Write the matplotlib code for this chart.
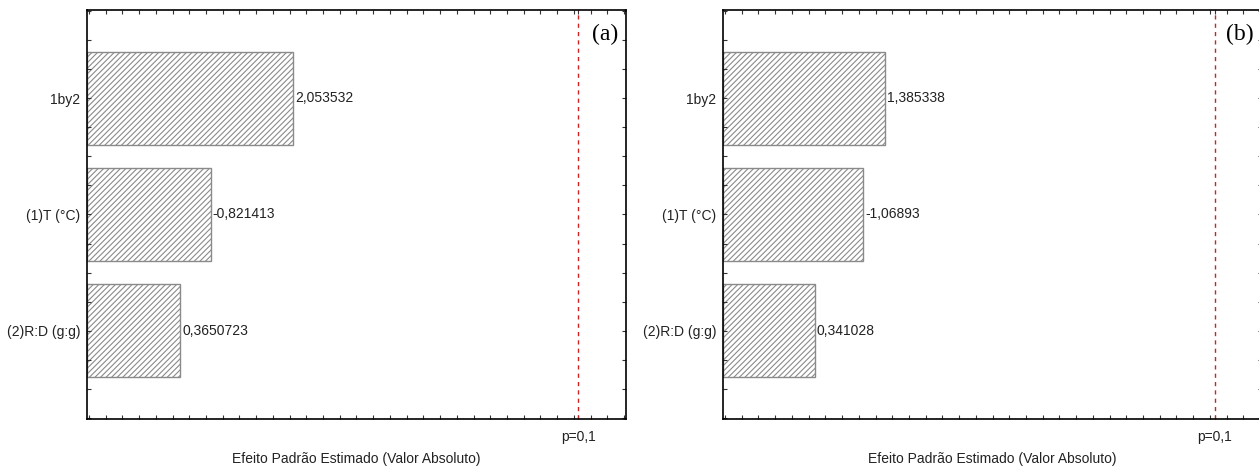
import matplotlib
matplotlib.use('Agg')
import matplotlib.pyplot as plt
from matplotlib.ticker import MultipleLocator

# data
effects = ['1by2', '(1)T (°C)', '(2)R:D (g:g)']
values_a = [2.053532, 0.821413, 0.3650723]
labels_a = ['2,053532', '-0,821413', '0,3650723']
values_b = [1.385338, 1.06893, 0.341028]
labels_b = ['1,385338', '-1,06893', '0,341028']
p_limit = 6.32
p_label = 'p=0,1'
xlabel = 'Efeito Padrão Estimado (Valor Absoluto)'
panels = ['(a)', '(b)']

x_min, x_max = -1.03, 7.03

plt.rcParams['font.family'] = ['Liberation Sans', 'DejaVu Sans']
plt.rcParams['hatch.color'] = '#8a8a8a'
plt.rcParams['hatch.linewidth'] = 0.8

fig = plt.figure(figsize=(12.59, 4.67), dpi=100)
ax_a = fig.add_axes([0.0691, 0.1028, 0.4281, 0.8758])
ax_b = fig.add_axes([0.5743, 0.1028, 0.4281, 0.8758])

for ax, vals, labs, tag in [(ax_a, values_a, labels_a, panels[0]),
                            (ax_b, values_b, labels_b, panels[1])]:
    ypos = list(range(len(effects)))
    widths = [v - x_min for v in vals]
    ax.barh(ypos, widths, left=x_min, height=0.8, color='white',
            edgecolor='#8a8a8a', hatch='//////', linewidth=1.0)
    for y, v, s in zip(ypos, vals, labs):
        ax.text(v + 0.03, y, s, va='center', ha='left', fontsize=10, color='#222222')
    ax.axvline(p_limit, color='#cc2222', linestyle=(0, (3, 3)), linewidth=1.0)
    ax.set_xlim(x_min, x_max)
    ax.set_ylim(2.76, -0.76)
    ax.set_yticks(ypos)
    ax.set_yticklabels(effects, fontsize=10, color='#222222')
    ax.set_xticks([p_limit])
    ax.set_xticklabels([p_label], fontsize=10, color='#222222')
    ax.xaxis.set_minor_locator(MultipleLocator(0.25))
    ax.yaxis.set_minor_locator(MultipleLocator(0.25))
    ax.tick_params(which='both', direction='in', top=True, right=True,
                   length=3, width=0.8, color='#333333')
    ax.tick_params(axis='x', which='major', pad=8)
    ax.tick_params(axis='y', which='major', pad=5)
    for sp in ax.spines.values():
        sp.set_linewidth(1.2)
    ax.set_xlabel(xlabel, fontsize=10, color='#222222', labelpad=6)
    ax.text(0.985, 0.94, tag, transform=ax.transAxes, ha='right', va='center',
            fontsize=17, family=['Liberation Serif', 'DejaVu Serif'])

fig.savefig('out.png', dpi=100)
